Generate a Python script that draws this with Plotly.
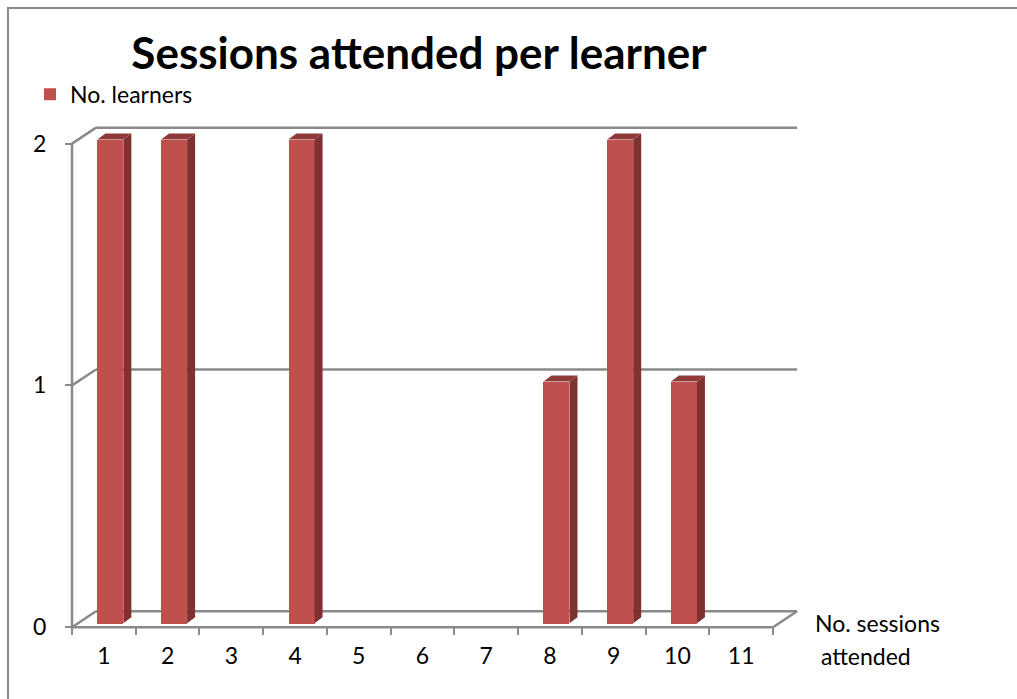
import plotly.graph_objects as go

# ---- data ----
categories = [1, 2, 3, 4, 5, 6, 7, 8, 9, 10, 11]
tick_labels = ["1", "2", "3", "4", "5", "6", "7", "8", "9", "10", "11"]
learners = [2, 2, 0, 2, 0, 0, 0, 1, 2, 1, 0]
y_ticks = [0, 1, 2]
series_name = "No. learners"
title_text = "Sessions attended per learner"
x_title_lines = ["No. sessions", " attended"]

# ---- geometry (pixels) ----
W, H = 1017, 699
X0 = 72.0            # front-left corner x (category 0.5)
CAT = 63.73          # px per category
Y0 = 629.0           # front floor y (value 0)
UNIT = 242.5         # px per value unit
DEPTH_DX, DEPTH_DY = 24.0, 16.0    # back wall offset
BAR_DX, BAR_DY = 6.5, 4.0          # bar front plane offset
BAR_SIDE_DX, BAR_SIDE_DY = 8.0, 6.0
BAR_W = 26.0

DL, DR = 60.0, 810.0
DT, DB = 110.0, 640.0
x_range = [0.5 - (X0 - DL) / CAT, 0.5 + (DR - X0) / CAT]
y_range = [-(DB - Y0) / UNIT, (Y0 - DT) / UNIT]

dx = DEPTH_DX / CAT
dy = DEPTH_DY / UNIT
bdx = BAR_DX / CAT
bdy = BAR_DY / UNIT
sdx = BAR_SIDE_DX / CAT
sdy = BAR_SIDE_DY / UNIT
bw = BAR_W / CAT
off = -0.5 * bw + bdx

FRONT = "#C0504D"
SIDE = "#7E3130"
TOP = "#8E3A38"
GRID = "#8A8A8A"
LW = 2.5

fig = go.Figure()
fig.add_trace(go.Bar(
    x=categories, y=learners, base=bdy, width=bw, offset=off,
    marker=dict(color=FRONT, line=dict(width=0)),
    name=series_name, showlegend=True,
))

shapes = []
cmin, cmax = 0.5, len(categories) + 0.5
for v in y_ticks:
    shapes.append(dict(type="line", xref="x", yref="y", x0=cmin + dx, x1=cmax + dx,
                       y0=v + dy, y1=v + dy, line=dict(color=GRID, width=LW), layer="between"))
    shapes.append(dict(type="line", xref="x", yref="y", x0=cmin, x1=cmin + dx,
                       y0=v, y1=v + dy, line=dict(color=GRID, width=LW), layer="between"))
shapes.append(dict(type="line", xref="x", yref="y", x0=cmin, x1=cmin, y0=0, y1=max(y_ticks),
                   line=dict(color=GRID, width=LW), layer="between"))
shapes.append(dict(type="line", xref="x", yref="y", x0=cmin, x1=cmax, y0=0, y1=0,
                   line=dict(color=GRID, width=LW), layer="between"))
shapes.append(dict(type="line", xref="x", yref="y", x0=cmax, x1=cmax + dx, y0=0, y1=dy,
                   line=dict(color=GRID, width=LW), layer="between"))

for c, v in zip(categories, learners):
    if v <= 0:
        continue
    l = c + off
    r = l + bw
    b = bdy
    t = bdy + v
    side = f"M{r},{b} L{r + sdx},{b + sdy} L{r + sdx},{t + sdy} L{r},{t} Z"
    top = f"M{l},{t} L{l + sdx},{t + sdy} L{r + sdx},{t + sdy} L{r},{t} Z"
    shapes.append(dict(type="path", xref="x", yref="y", path=side, fillcolor=SIDE,
                       line=dict(width=0), layer="above"))
    shapes.append(dict(type="path", xref="x", yref="y", path=top, fillcolor=TOP,
                       line=dict(width=0), layer="above"))

shapes.append(dict(type="rect", xref="paper", yref="paper", x0=8 / W, x1=1.02,
                   y0=-0.02, y1=1 - 8 / H, line=dict(color=GRID, width=2), layer="below"))

FONT = "Lato, 'Open Sans', sans-serif"
FS = 23

annotations = [
    dict(text=x_title_lines[0], xref="paper", yref="paper", x=813 / W, y=1 - 625 / H,
         xanchor="left", yanchor="middle", showarrow=False, font=dict(size=FS, color="black", family=FONT)),
    dict(text=x_title_lines[1], xref="paper", yref="paper", x=813 / W, y=1 - 658 / H,
         xanchor="left", yanchor="middle", showarrow=False, font=dict(size=FS, color="black", family=FONT)),
]

fig.update_layout(
    width=W, height=H,
    margin=dict(l=0, r=0, t=0, b=0),
    paper_bgcolor="white", plot_bgcolor="white",
    font=dict(family=FONT, size=FS, color="black"),
    title=dict(text=title_text, x=419 / W, xanchor="center", y=1 - 54 / H, yanchor="middle",
               xref="paper", yref="paper",
               font=dict(size=44, family=FONT, color="black", weight=700)),
    showlegend=True,
    legend=dict(x=30 / W, y=1 - 73 / H, xanchor="left", yanchor="top",
                font=dict(size=FS, family=FONT, color="black"), bgcolor="rgba(0,0,0,0)",
                itemclick=False),
    bargap=0,
    shapes=shapes,
    annotations=annotations,
    xaxis=dict(
        domain=[DL / W, DR / W], range=x_range, showgrid=False, zeroline=False, showline=False,
        tickmode="array", tickvals=categories, ticktext=tick_labels, ticks="",
        anchor="free", position=1 - Y0 / H,
        ticklabelstandoff=13,
        tickfont=dict(size=FS, family=FONT, color="black"),
        minor=dict(tickmode="array", tickvals=[c - 0.5 for c in categories] + [categories[-1] + 0.5],
                   ticks="outside", ticklen=7, tickcolor=GRID, tickwidth=2, showgrid=False),
        fixedrange=True,
    ),
    yaxis=dict(
        domain=[1 - DB / H, 1 - DT / H], range=y_range, showgrid=False, zeroline=False, showline=False,
        tickmode="array", tickvals=y_ticks, ticktext=[str(v) for v in y_ticks],
        ticks="outside", ticklen=7, tickcolor=GRID, tickwidth=2,
        anchor="free", position=X0 / W,
        ticklabelstandoff=14,
        tickfont=dict(size=FS, family=FONT, color="black"),
        fixedrange=True,
    ),
)

fig.write_html("out.html")
